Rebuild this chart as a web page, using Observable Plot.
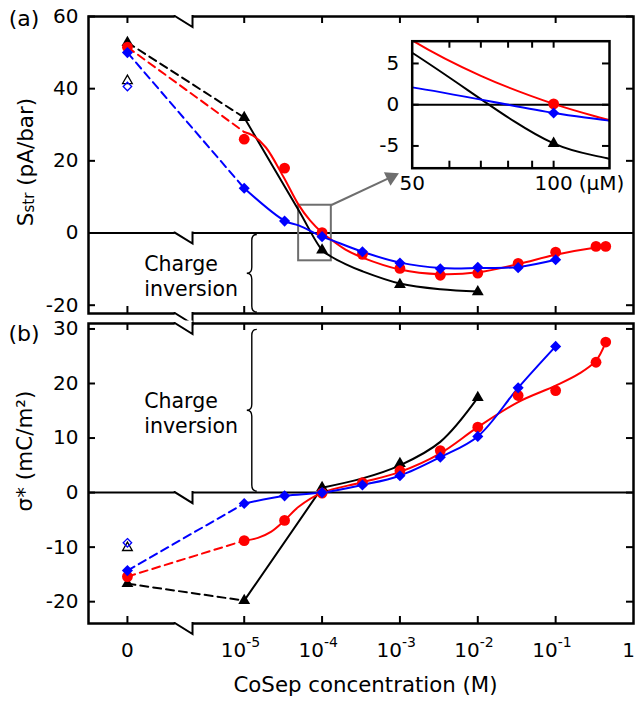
<!DOCTYPE html>
<html><head><meta charset="utf-8">
<script src="https://cdn.jsdelivr.net/npm/d3@7"></script>
<script src="https://cdn.jsdelivr.net/npm/@observablehq/plot@0.6"></script>
<style>
body{margin:0;background:#fff;}
#wrap{position:relative;width:636px;height:702px;font-family:"DejaVu Sans";}
#wrap svg{position:absolute;overflow:visible;}
</style></head><body><div id="wrap"></div>
<script>
const ZERO = 10 ** -6.5; // plotting position for concentration 0

// ---------- Panel (a): S_str (pA/bar) ----------
const concA_black = [0, 1e-5, 1e-4, 1e-3, 1e-2];
const sA_black    = [52.8, 32, -4.7, -14.3, -16.3];
const concA_red   = [0, 1e-5, 3.3e-5, 1e-4, 3.3e-4, 1e-3, 3.3e-3, 1e-2, 3.3e-2, 1e-1, 0.33, 0.44];
const sA_red      = [51.5, 26, 18, 0.1, -5.9, -9.8, -11.7, -11.1, -8.4, -5.3, -3.7, -3.7];
const concA_blue  = [0, 1e-5, 3.3e-5, 1e-4, 3.3e-4, 1e-3, 3.3e-3, 1e-2, 3.3e-2, 1e-1];
const sA_blue     = [50, 12.4, 3.3, -1.0, -5.2, -8.3, -9.9, -9.5, -9.6, -7.4];
const openA_tri = [42.2];
const openA_dia = [40.6];

const fitA_black_x = [1e-5, 5e-5, 1e-4, 1.3e-4, 2e-4, 3.3e-4, 1e-3, 3.3e-3, 1e-2];
const fitA_black_y = [32, 6.3, -4.7, -6.5, -8.6, -10.6, -14.0, -15.6, -16.2];
const fitA_red_x = [1e-5, 1.3e-5, 1.9e-5, 3.2e-5, 5e-5, 7e-5, 1e-4, 1.3e-4, 2e-4, 3.3e-4, 1e-3, 3.3e-3, 1e-2, 3.3e-2, 1e-1, 0.33, 0.44];
const fitA_red_y = [28, 27, 23.7, 15.5, 7.8, 3.5, 0.1, -1.8, -4.6, -6.8, -10.1, -11.4, -10.9, -8.6, -6.0, -4.0, -3.7];
const fitA_blue_x = [1e-5, 3.3e-5, 5e-5, 1e-4, 1.3e-4, 3.3e-4, 1e-3, 3.3e-3, 1e-2, 3.3e-2, 1e-1];
const fitA_blue_y = [12.4, 3.4, 2.1, -1.0, -1.9, -5.2, -8.2, -9.7, -9.7, -9.4, -7.4];

// ---------- Panel (b): sigma* (mC/m^2) ----------
const concB_black = [0, 1e-5, 1e-4, 1e-3, 1e-2];
const qB_black    = [-16.7, -19.8, 0.9, 5.3, 17.4];
const concB_red   = [0, 1e-5, 3.3e-5, 1e-4, 3.3e-4, 1e-3, 3.3e-3, 1e-2, 3.3e-2, 1e-1, 0.33, 0.44];
const qB_red      = [-15.4, -8.8, -5.1, -0.1, 1.8, 4.0, 7.7, 12.0, 17.8, 18.7, 23.9, 27.6];
const concB_blue  = [0, 1e-5, 3.3e-5, 1e-4, 3.3e-4, 1e-3, 3.3e-3, 1e-2, 3.3e-2, 1e-1];
const qB_blue     = [-14.3, -2.0, -0.6, 0.0, 1.4, 3.1, 6.5, 10.3, 19.2, 26.8];
const openB_tri = [-10.1];
const openB_dia = [-9.2];

const fitB_black1_x = [1e-5, 1e-4];
const fitB_black1_y = [-19.8, 0.9];
const fitB_black2_x = [1e-4, 3.3e-4, 1e-3, 3.3e-3, 1e-2];
const fitB_black2_y = [0.9, 2.6, 5.0, 9.3, 17.4];
const fitB_red_x = [1e-5, 1.5e-5, 2.2e-5, 3.3e-5, 5e-5, 1e-4, 3.3e-4, 1e-3, 3.3e-3, 1e-2, 3.3e-2, 1e-1, 0.2, 0.33, 0.44];
const fitB_red_y = [-8.8, -8.3, -7.2, -5.1, -2.6, 0, 1.9, 3.8, 7.2, 12.0, 16.6, 19.6, 21.8, 24.2, 27.6];
const fitB_blue_x = [1e-5, 3.3e-5, 1e-4, 3.3e-4, 1e-3, 3.3e-3, 1e-2, 3.3e-2, 1e-1];
const fitB_blue_y = [-2.0, -0.6, 0, 1.4, 3.1, 6.5, 10.3, 19.2, 26.8];

// ---------- ticks / labels ----------
const xTickVals = [0, 1e-5, 1e-4, 1e-3, 1e-2, 1e-1];
const xExponents = [-5, -4, -3, -2, -1];
const xPlainLabels = [{v: 0, t: "0", dx: 0}, {v: 1, t: "1", dx: -5}];
const yTicksA = [60, 40, 20, 0, -20];
const yTicksB = [30, 20, 10, 0, -10, -20];
const insetXTicks = [60, 70, 80, 90, 100];
const insetXLabels = [50, 100];
const insetYTicks = [5, 0, -5];

// domains
const xDomain = [1e-7, 1];
const yDomainA = [-22.3, 60];
const yDomainB = [-24, 31];
const insetXDomain = [50, 131.5];   // µM
const insetYDomain = [-7.7, 7.7];
const breakX = [1.3e-6, 2.2e-6];
const braceX = 1.27e-5;
const textX = 5.2e-7;
const ciA_y = -11.8, ciB_y = 14.6;
const arrowA = [{x1: 1.3e-4, y1: 7.7, x2: 7.7e-4, y2: 15.5}];

const BLACK = "#000", RED = "#ff0000", BLUE = "#0000ff", GRAY = "#6e6e6e";
const FONT = "DejaVu Sans";

const pos = c => c === 0 ? ZERO : c;
const pts = (xs, ys) => xs.map((x, i) => ({x: pos(x), y: ys[i]}));

const W = 636, mL = 88, mR = 3;
const innerW = W - mL - mR;

function seriesMarks(sets, opts = {}) {
  const m = [];
  for (const s of sets) {
    m.push(Plot.line(s.dash, {x: "x", y: "y", stroke: s.color, strokeWidth: 2, strokeDasharray: "8,5", ...opts}));
  }
  for (const s of sets) for (const f of s.fits) {
    m.push(Plot.line(f.data, {x: "x", y: "y", stroke: s.color, strokeWidth: 2, curve: f.curve, ...opts}));
  }
  for (const s of sets) {
    m.push(Plot.dot(s.pts, {x: "x", y: "y", symbol: s.symbol, r: s.r, fill: s.color, ...opts}));
  }
  return m;
}

function frameTicks(yTicks, innerH, xTicks) {
  return [
    Plot.tickY(yTicks, {y: d => d, insetRight: innerW - 7, strokeWidth: 2}),
    Plot.tickY(yTicks, {y: d => d, insetLeft: innerW - 7, strokeWidth: 2}),
    Plot.tickX(xTicks.map(pos), {x: d => d, insetBottom: innerH - 7, strokeWidth: 2}),
    Plot.tickX(xTicks.map(pos), {x: d => d, insetTop: innerH - 7, strokeWidth: 2}),
    Plot.text(yTicks, {y: d => d, text: d => String(d), frameAnchor: "left", textAnchor: "end", dx: -10, fontSize: 20})
  ];
}

function decorate(svg, breakYs, brace, label, ylabel) {
  const sx = svg.scale("x"), sy = svg.scale("y");
  const g = d3.select(svg).append("g");
  const xa = sx.apply(breakX[0]), xb = sx.apply(breakX[1]);
  for (const yv of breakYs) {
    const y = sy.apply(yv);
    g.append("rect").attr("x", xa).attr("y", y - 2.5).attr("width", xb - xa).attr("height", 5).attr("fill", "white");
    g.append("path").attr("d", `M${xa - 1},${y}L${xa},${y}L${xb},${y + 11}L${xb},${y}L${xb + 1},${y}`)
      .attr("fill", "none").attr("stroke", "black").attr("stroke-width", 2).attr("stroke-linejoin", "miter");
  }
  // brace
  const bx = sx.apply(braceX), yA = sy.apply(brace[0]) + 2, yB = sy.apply(brace[1]) - 1;
  const w = 5, r = 6, m = (yA + yB) / 2;
  g.append("path").attr("d",
    `M${bx + w},${yA} Q${bx},${yA} ${bx},${yA + r} L${bx},${m - r} Q${bx},${m} ${bx - w},${m} Q${bx},${m} ${bx},${m + r} L${bx},${yB - r} Q${bx},${yB} ${bx + w},${yB}`)
    .attr("fill", "none").attr("stroke", "black").attr("stroke-width", 1.4);
  // panel label
  g.append("text").attr("x", label.x).attr("y", label.y).attr("text-anchor", "middle").attr("dominant-baseline", "central")
    .style("font-family", FONT).style("font-size", "22px").text(label.t);
  // y label
  const t = g.append("text").attr("transform", `translate(${ylabel.x},${ylabel.y}) rotate(-90)`)
    .attr("text-anchor", "middle").attr("dominant-baseline", "central")
    .style("font-family", FONT).style("font-size", "21.5px");
  for (const p of ylabel.parts) {
    const ts = t.append("tspan").text(p.t);
    if (p.size) ts.style("font-size", p.size + "px");
    if (p.dy) ts.attr("dy", p.dy);
  }
}

const style = {fontFamily: FONT, fontSize: "20px", background: "transparent", overflow: "visible"};

// ----- Panel (a) -----
const hA = 318, mtA = 16, mbA = 5;
const setsA = [
  {color: BLACK, symbol: "triangle", r: 4.4, dash: pts([0, 1e-5], [sA_black[0], sA_black[1]]),
   fits: [{data: pts(fitA_black_x, fitA_black_y), curve: "catmull-rom"}], pts: pts(concA_black, sA_black)},
  {color: RED, symbol: "circle", r: 5.4, dash: pts([0, 1e-5], [sA_red[0], fitA_red_y[0]]),
   fits: [{data: pts(fitA_red_x, fitA_red_y), curve: "catmull-rom"}], pts: pts(concA_red, sA_red)},
  {color: BLUE, symbol: "diamond2", r: 5, dash: pts([0, 1e-5], [sA_blue[0], sA_blue[1]]),
   fits: [{data: pts(fitA_blue_x, fitA_blue_y), curve: "catmull-rom"}], pts: pts(concA_blue, sA_blue)}
];
const pa = Plot.plot({
  width: W, height: hA, marginLeft: mL, marginRight: mR, marginTop: mtA, marginBottom: mbA,
  x: {type: "log", domain: xDomain, axis: null},
  y: {domain: yDomainA, axis: null},
  style,
  marks: [
    Plot.ruleY([0], {stroke: "black", strokeWidth: 2}),
    Plot.rect([{x1: insetXDomain[0] * 1e-6, x2: insetXDomain[1] * 1e-6, y1: insetYDomain[0], y2: insetYDomain[1]}],
      {x1: "x1", x2: "x2", y1: "y1", y2: "y2", fill: "none", stroke: GRAY, strokeWidth: 2}),
    Plot.link(arrowA, {x1: "x1", y1: "y1", x2: "x2", y2: "y2", stroke: GRAY, strokeWidth: 2}),
    Plot.dot(arrowA, {x: "x2", y: "y2", symbol: "triangle", r: 5.6, fill: GRAY, rotate: 64}),
    ...seriesMarks(setsA),
    Plot.dot(openA_tri, {x: () => ZERO, y: d => d, symbol: "triangle", r: 3.6, fill: "none", stroke: BLACK, strokeWidth: 1.3}),
    Plot.dot(openA_dia, {x: () => ZERO, y: d => d, symbol: "diamond2", r: 3.8, fill: "none", stroke: BLUE, strokeWidth: 1.3}),
    Plot.text([{x: textX, y: ciA_y}], {x: "x", y: "y", text: () => "Charge\ninversion", textAnchor: "start", fontSize: 20.5, lineHeight: 1.22}),
    ...frameTicks(yTicksA, hA - mtA - mbA, xTickVals),
    Plot.frame({stroke: "black", strokeWidth: 2.5})
  ]
});
pa.style.left = "0px"; pa.style.top = "0px";
decorate(pa, [yDomainA[1], 0, yDomainA[0]], [0, yDomainA[0]], {x: 24, y: 18, t: "(a)"},
  {x: 25, y: 162, parts: [{t: "S"}, {t: "str", size: 15, dy: 4}, {t: " (pA/bar)", dy: -4}]});

// ----- Inset -----
const toUM = arr => arr.map(d => ({x: d.x * 1e6, y: d.y}));
const inW = 245, inH = 172, inML = 31.7, inMR = 16, inMT = 10.7, inMB = 34.3;
const inInnerW = inW - inML - inMR, inInnerH = inH - inMT - inMB;
const inRange = d => d.x >= insetXDomain[0] && d.x <= insetXDomain[1];
const pin = Plot.plot({
  width: inW, height: inH, marginLeft: inML, marginRight: inMR, marginTop: inMT, marginBottom: inMB,
  x: {type: "log", domain: insetXDomain, axis: null},
  y: {domain: insetYDomain, axis: null},
  style,
  marks: [
    Plot.frame({fill: "white"}),
    Plot.ruleY([0], {stroke: "black", strokeWidth: 2}),
    ...setsA.map(s => Plot.line(toUM(s.fits[0].data), {x: "x", y: "y", stroke: s.color, strokeWidth: 2, curve: "catmull-rom", clip: true})),
    ...setsA.map(s => Plot.dot(toUM(s.pts).filter(inRange), {x: "x", y: "y", symbol: s.symbol, r: s.r, fill: s.color})),
    Plot.tickY(insetYTicks, {y: d => d, insetRight: inInnerW - 7, strokeWidth: 2}),
    Plot.tickY(insetYTicks, {y: d => d, insetLeft: inInnerW - 7, strokeWidth: 2}),
    Plot.tickX(insetXTicks, {x: d => d, insetBottom: inInnerH - 7, strokeWidth: 2}),
    Plot.tickX(insetXTicks, {x: d => d, insetTop: inInnerH - 7, strokeWidth: 2}),
    Plot.text(insetYTicks, {y: d => d, text: d => String(d), frameAnchor: "left", textAnchor: "end", dx: -13, fontSize: 20}),
    Plot.text(insetXLabels, {x: d => d, text: d => String(d), frameAnchor: "bottom", dy: 22, fontSize: 20}),
    Plot.text([100], {x: d => d, text: () => "(µM)", frameAnchor: "bottom", textAnchor: "start", dy: 22, dx: 25, fontSize: 20}),
    Plot.frame({stroke: "black", strokeWidth: 2.5})
  ]
});
pin.style.left = "380px"; pin.style.top = "30px";

// ----- Panel (b) -----
const hB = 384, mtB = 5, mbB = 79;
const setsB = [
  {color: BLACK, symbol: "triangle", r: 4.4, dash: pts([0, 1e-5], [qB_black[0], qB_black[1]]),
   fits: [{data: pts(fitB_black1_x, fitB_black1_y), curve: "linear"}, {data: pts(fitB_black2_x, fitB_black2_y), curve: "catmull-rom"}],
   pts: pts(concB_black, qB_black)},
  {color: RED, symbol: "circle", r: 5.4, dash: pts([0, 1e-5], [qB_red[0], qB_red[1]]),
   fits: [{data: pts(fitB_red_x, fitB_red_y), curve: "catmull-rom"}], pts: pts(concB_red, qB_red)},
  {color: BLUE, symbol: "diamond2", r: 5, dash: pts([0, 1e-5], [qB_blue[0], qB_blue[1]]),
   fits: [{data: pts(fitB_blue_x, fitB_blue_y), curve: "catmull-rom"}], pts: pts(concB_blue, qB_blue)}
];
const pb = Plot.plot({
  width: W, height: hB, marginLeft: mL, marginRight: mR, marginTop: mtB, marginBottom: mbB,
  x: {type: "log", domain: xDomain, axis: null},
  y: {domain: yDomainB, axis: null},
  style,
  marks: [
    Plot.ruleY([0], {stroke: "black", strokeWidth: 2}),
    ...seriesMarks(setsB),
    Plot.dot(openB_tri, {x: () => ZERO, y: d => d, symbol: "triangle", r: 3.6, fill: "none", stroke: BLACK, strokeWidth: 1.3}),
    Plot.dot(openB_dia, {x: () => ZERO, y: d => d, symbol: "diamond2", r: 3.8, fill: "none", stroke: BLUE, strokeWidth: 1.3}),
    Plot.text([{x: textX, y: ciB_y}], {x: "x", y: "y", text: () => "Charge\ninversion", textAnchor: "start", fontSize: 20.5, lineHeight: 1.22}),
    ...frameTicks(yTicksB, hB - mtB - mbB, xTickVals),
    Plot.text(xPlainLabels.slice(0, 1), {x: d => pos(d.v), text: "t", frameAnchor: "bottom", dy: 33.5, fontSize: 20}),
    Plot.text(xPlainLabels.slice(1), {x: d => pos(d.v), text: "t", frameAnchor: "bottom", dy: 33.5, dx: -5, fontSize: 20}),
    Plot.text(xExponents, {x: d => 10 ** d, text: () => "10", frameAnchor: "bottom", textAnchor: "end", dx: 2, dy: 33.5, fontSize: 20}),
    Plot.text(xExponents, {x: d => 10 ** d, text: d => String(d), frameAnchor: "bottom", textAnchor: "start", dx: 2, dy: 23, fontSize: 14}),
    Plot.text(["CoSep concentration (M)"], {text: d => d, frameAnchor: "bottom", dy: 68.5, dx: 4.5, fontSize: 21.3}),
    Plot.frame({stroke: "black", strokeWidth: 2.5})
  ]
});
pb.style.left = "0px"; pb.style.top = hA + "px";
decorate(pb, [yDomainB[1], 0, yDomainB[0]], [30.2, 0], {x: 24, y: 15, t: "(b)"},
  {x: 24, y: 133, parts: [{t: "σ* (mC/m²)"}]});

const wrap = document.getElementById("wrap");
wrap.appendChild(pa);
wrap.appendChild(pb);
wrap.appendChild(pin);
</script></body></html>
